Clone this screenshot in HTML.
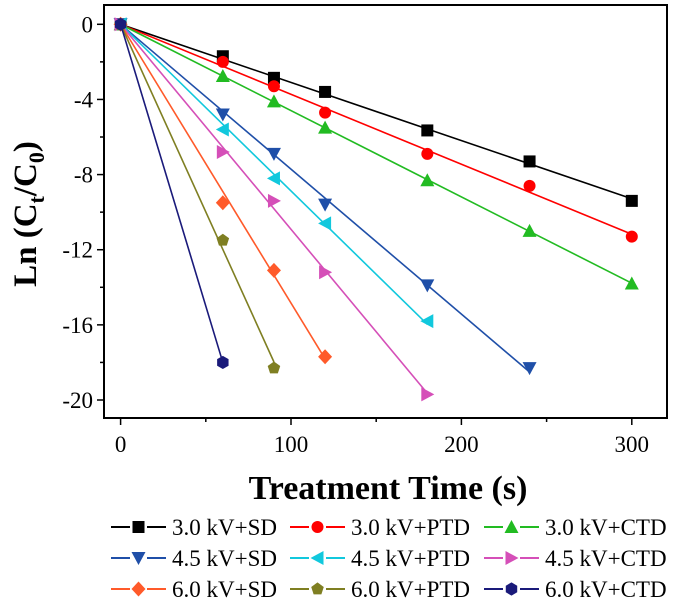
<!DOCTYPE html>
<html><head><meta charset="utf-8"><style>
html,body{margin:0;padding:0;background:#fff;}
svg text{font-family:"Liberation Serif",serif;}
</style></head><body>
<svg id="chart" width="675" height="605" xmlns="http://www.w3.org/2000/svg"></svg>
<script>
const xTicks=[0,100,200,300];
const yTicks=[0,-4,-8,-12,-16,-20];
const seriesNames=["3.0 kV+SD","3.0 kV+PTD","3.0 kV+CTD","4.5 kV+SD","4.5 kV+PTD","4.5 kV+CTD","6.0 kV+SD","6.0 kV+PTD","6.0 kV+CTD"];
const seriesColors=["#000000","#ff0000","#22bb22","#1f4fa8","#11c8dd","#d54fb8","#ff5a2a","#7f7f22","#1a1a7a"];
const seriesMarkers=["square","circle","up","down","left","right","diamond","pentagon","hexagon"];
const times3=[0,60,90,120,180,240,300];
const s30SD=[0,-1.7,-2.85,-3.6,-5.65,-7.3,-9.4];
const s30PTD=[0,-2.0,-3.3,-4.7,-6.9,-8.6,-11.3];
const s30CTD=[0,-2.75,-4.1,-5.5,-8.3,-11.0,-13.8];
const times45SD=[0,60,90,120,180,240];
const s45SD=[0,-4.8,-6.9,-9.6,-13.9,-18.3];
const times45=[0,60,90,120,180];
const s45PTD=[0,-5.6,-8.2,-10.6,-15.8];
const s45CTD=[0,-6.8,-9.4,-13.2,-19.7];
const times60SD=[0,60,90,120];
const s60SD=[0,-9.5,-13.1,-17.7];
const times60PTD=[0,60,90];
const s60PTD=[0,-11.5,-18.3];
const times60CTD=[0,60];
const s60CTD=[0,-18.0];
const seriesX=[times3,times3,times3,times45SD,times45,times45,times60SD,times60PTD,times60CTD];
const seriesY=[s30SD,s30PTD,s30CTD,s45SD,s45PTD,s45CTD,s60SD,s60PTD,s60CTD];

const NS="http://www.w3.org/2000/svg";
const svg=document.getElementById('chart');
const L=104,R=667,T=5,B=418;
const X=v=>120.6+(v/300)*(631.8-120.6);
const Y=v=>24.3+(v/-20)*(400-24.3);
function mk(tag,attrs,parent){const e=document.createElementNS(NS,tag);for(const k in attrs)e.setAttribute(k,attrs[k]);(parent||svg).appendChild(e);return e;}

const frame=mk('rect',{x:L,y:T,width:R-L,height:B-T,fill:'none',stroke:'#000','stroke-width':2});



for(let v=0;v<=300;v+=50){
  const t=mk('line',{x1:X(v),x2:X(v),y1:B,y2:B+(v%100===0?7:4),stroke:'#000','stroke-width':1.5});
  
  
}
xTicks.forEach(v=>{
  const t=mk('text',{x:X(v),y:B+34,'font-size':23,'text-anchor':'middle'});
  t.textContent=v;
  
  
});
for(let v=0;v>=-20;v-=2){
  const t=mk('line',{x1:L,x2:L-(v%4===0?7:4),y1:Y(v),y2:Y(v),stroke:'#000','stroke-width':1.5});
  
  
}
yTicks.forEach(v=>{
  const t=mk('text',{x:L-11,y:Y(v)+8,'font-size':23,'text-anchor':'end'});
  t.textContent=v;
  
  
});

const xt=mk('text',{x:388,y:499,'font-size':34,'font-weight':'bold','text-anchor':'middle'});
xt.textContent='Treatment Time (s)';


const yt=mk('text',{x:0,y:0,'font-size':33,'font-weight':'bold','text-anchor':'middle',transform:'translate(36,214) rotate(-90)'});
yt.innerHTML='Ln (C<tspan font-size="22" dy="8">t</tspan><tspan dy="-8">/C</tspan><tspan font-size="22" dy="8">0</tspan><tspan dy="-8">)</tspan>';



function marker(type,cx,cy,color,g){
  const s=6;let e;
  const poly=(pts)=>mk('polygon',{points:pts.map(p=>p.join(',')).join(' '),fill:color},g);
  const reg=(n,rot)=>{const p=[];for(let i=0;i<n;i++){const a=rot+i*2*Math.PI/n;p.push([cx+s*1.1*Math.cos(a),cy+s*1.1*Math.sin(a)]);}return poly(p);};
  switch(type){
    case 'square':e=mk('rect',{x:cx-s,y:cy-s,width:2*s,height:2*s,fill:color},g);break;
    case 'circle':e=mk('circle',{cx:cx,cy:cy,r:s,fill:color},g);break;
    case 'up':e=poly([[cx,cy-s-1],[cx+s+1,cy+s],[cx-s-1,cy+s]]);break;
    case 'down':e=poly([[cx,cy+s+1],[cx+s+1,cy-s],[cx-s-1,cy-s]]);break;
    case 'left':e=poly([[cx-s-1,cy],[cx+s,cy-s-1],[cx+s,cy+s+1]]);break;
    case 'right':e=poly([[cx+s+1,cy],[cx-s,cy-s-1],[cx-s,cy+s+1]]);break;
    case 'diamond':e=poly([[cx,cy-s-1.5],[cx+s+1,cy],[cx,cy+s+1.5],[cx-s-1,cy]]);break;
    case 'pentagon':e=reg(5,-Math.PI/2);break;
    case 'hexagon':e=reg(6,-Math.PI/2);break;
  }
  return e;
}

seriesNames.forEach((name,i)=>{
  const g=mk('g',{});
  
  
  const xs=seriesX[i],ys=seriesY[i];
  let sxy=0,sxx=0;xs.forEach((x,k)=>{sxy+=x*ys[k];sxx+=x*x;});
  const slope=sxy/sxx, xe=xs[xs.length-1];
  const ln=mk('line',{x1:X(0),y1:Y(0),x2:X(xe),y2:Y(slope*xe),stroke:seriesColors[i],'stroke-width':1.6},g);
  
  
  xs.forEach((x,k)=>{
    const m=marker(seriesMarkers[i],X(x),Y(ys[k]),seriesColors[i],g);
    
    
  });
});

const colLine=[111,290,484], colText=[172,351,545], rowY=[535,566,597];
seriesNames.forEach((name,i)=>{
  const c=i%3,r=Math.floor(i/3);
  const g=mk('g',{});
  
  
  const x0=colLine[c],y=rowY[r]-8;
  mk('line',{x1:x0,x2:x0+55,y1:y,y2:y,stroke:seriesColors[i],'stroke-width':2},g);
  mk('rect',{x:x0+19,y:y-3,width:17,height:6,fill:'#fff'},g);
  marker(seriesMarkers[i],x0+27.5,y,seriesColors[i],g);
  const t=mk('text',{x:colText[c],y:rowY[r],'font-size':23},g);
  t.textContent=name;
});
</script>
</body></html>
